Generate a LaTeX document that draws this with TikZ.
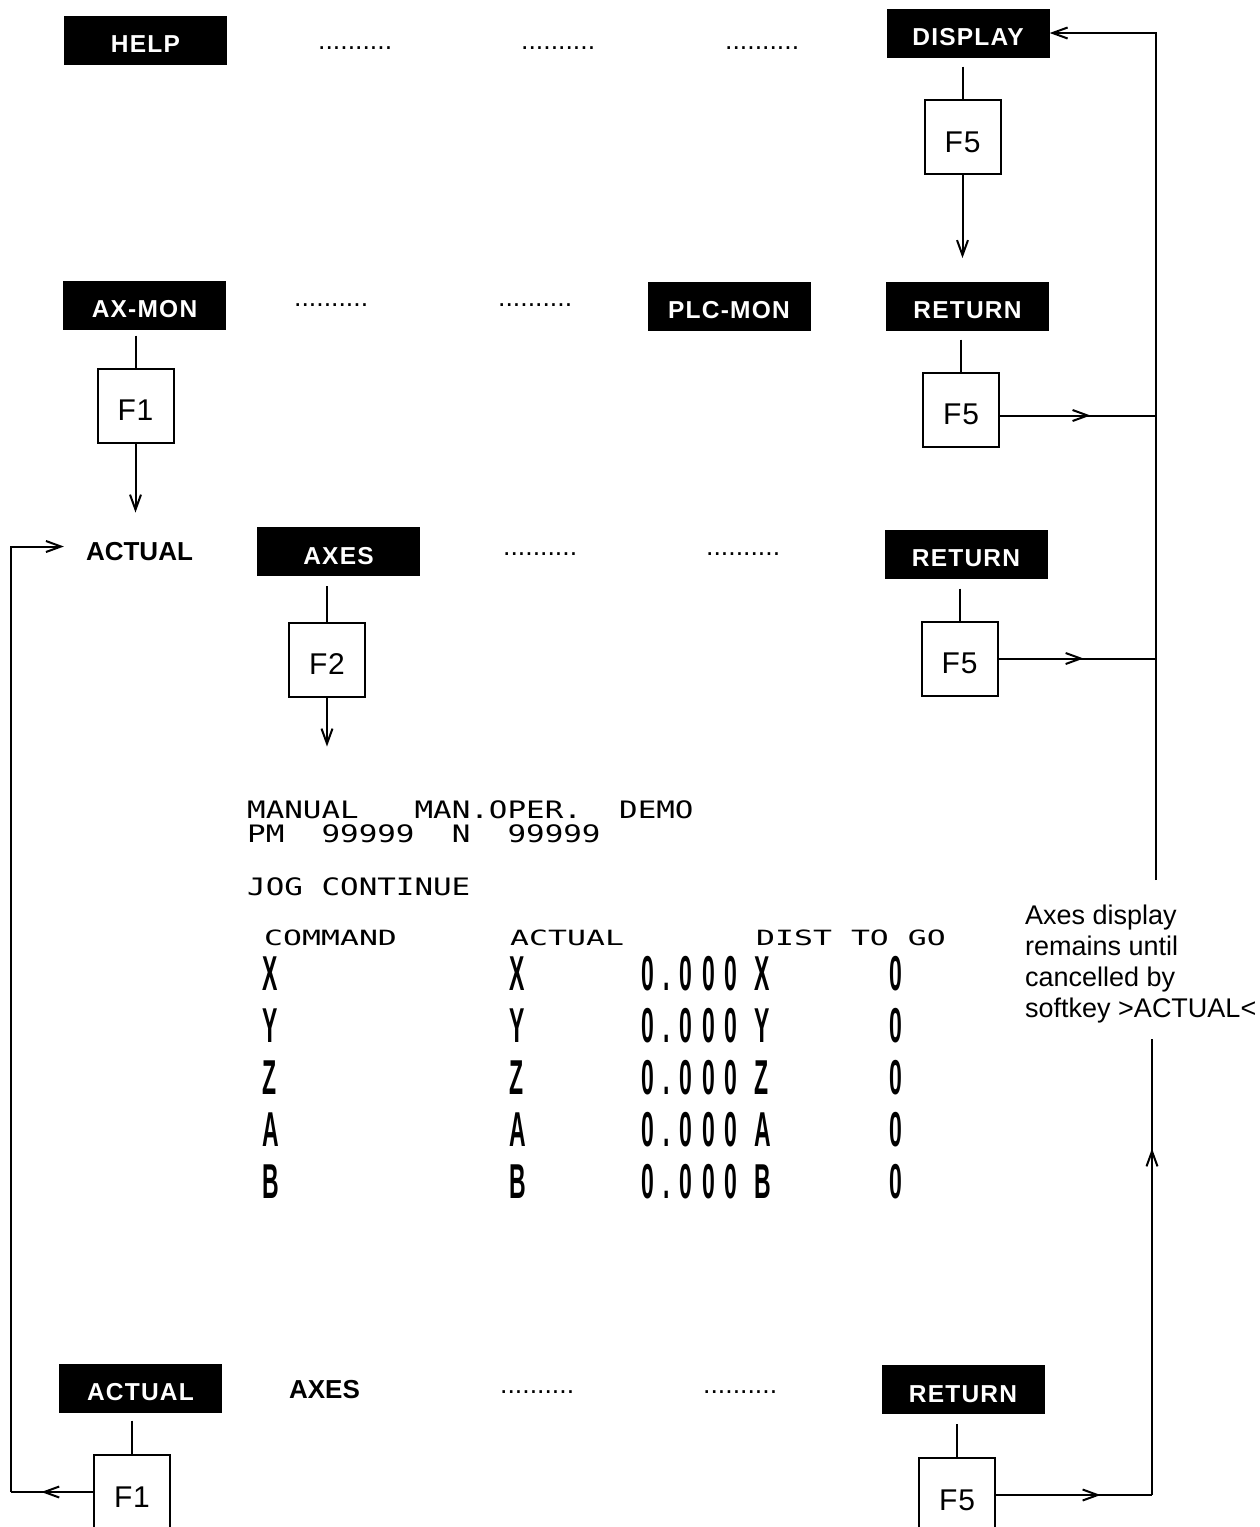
\documentclass[tikz,border=0pt]{standalone}
\usepackage{graphicx}
\usepackage{fontspec}
\setmainfont{Liberation Sans}
\newfontfamily\keyf[LetterSpace=5]{Liberation Sans}
\newfontfamily\fkf[LetterSpace=3]{Liberation Sans}
\newfontfamily\scrf{DejaVu Sans Mono}
\newfontfamily\bigf[LetterSpace=42]{Liberation Sans}
\newfontfamily\dotf{Liberation Sans}
\usetikzlibrary{arrows.meta,decorations.markings,calc}
\newcommand{\tallch}[1]{\scalebox{1.15}[2.45]{#1}}
\newcommand{\widea}[1]{\scalebox{1.287}[1]{#1}}
\newcommand{\wideb}[1]{\scalebox{1.5}[1]{#1}}
\tikzset{
  conn/.style={line width=2pt},
  arr/.style={conn,-{Straight Barb[length=15pt,width=11pt]}},
  midarrow/.style={conn,postaction={decorate},decoration={markings,mark=at position #1 with {\arrow{Straight Barb[length=15pt,width=11pt]}}}},
  keybox/.style={fill=black,text=white,minimum width=163pt,minimum height=49pt,inner sep=0pt,text height=25.5pt,text depth=0pt,font=\keyf\bfseries\fontsize{24.5}{28}\selectfont},
  fkey/.style={draw,line width=2pt,minimum width=76pt,minimum height=74pt,inner sep=0pt,text height=30pt,text depth=0pt,font=\fkf\fontsize{30}{34}\selectfont},
  leader/.style={anchor=base west,inner sep=0pt,font=\dotf\fontsize{26.6}{30}\selectfont},
  boldlabel/.style={inner sep=0pt,font=\bfseries\fontsize{26}{30}\selectfont},
  scra/.style={anchor=base west,inner sep=0pt,font=\scrf\fontsize{24}{28}\selectfont},
  scrb/.style={anchor=base west,inner sep=0pt,font=\scrf\fontsize{21}{25}\selectfont},
  bigtxt/.style={anchor=base west,inner sep=0pt,font=\bigf\bfseries\fontsize{20}{24}\selectfont},
}
\begin{document}
\begin{tikzpicture}[x=1pt,y=-1pt]
\useasboundingbox (0,0) rectangle (1260,1527);
\clip (0,0) rectangle (1260,1527);

% ---- row 1
\node[keybox] (help) at (145.5,40) {HELP};
\node[keybox] (disp) at (968,33) {DISPLAY};
\node[leader] (d11) at (318,49) {..........};
\node[leader] (d12) at (521,49) {..........};
\node[leader] (d13) at (725,49) {..........};
\node[fkey] (f5a) at (962.5,137) {F5};

% ---- row 2
\node[keybox] (axmon) at (144.5,305) {AX-MON};
\node[leader] (d21) at (294,306) {..........};
\node[leader] (d22) at (498,306) {..........};
\node[keybox] (plcmon) at (729,306) {PLC-MON};
\node[keybox] (ret1) at (967.5,306) {RETURN};
\node[fkey] (f1a) at (135.5,405.5) {F1};
\node[fkey] (f5b) at (961,409.5) {F5};

% ---- row 3
\node[boldlabel] (actual) at (139.5,551.5) {ACTUAL};
\node[keybox] (axes) at (338.5,551.5) {AXES};
\node[leader] (d31) at (503,555) {..........};
\node[leader] (d32) at (706,555) {..........};
\node[keybox] (ret2) at (966,554) {RETURN};
\node[fkey] (f2) at (327,659.5) {F2};
\node[fkey] (f5c) at (959.5,658.5) {F5};

% ---- screen
\node[scra] (m1) at (247,818) {\widea{MANUAL}};
\node[scra] (m2) at (414.4,818) {\widea{MAN.OPER.}};
\node[scra] (m3) at (619,818) {\widea{DEMO}};
\node[scra] (p1) at (247,842) {\widea{PM}};
\node[scra] (p2) at (321.4,842) {\widea{99999}};
\node[scra] (p3) at (451.6,842) {\widea{N}};
\node[scra] (p4) at (507.4,842) {\widea{99999}};
\node[scra] (jog) at (247,895) {\widea{JOG CONTINUE}};
\node[scrb] (h1) at (264,945) {\wideb{COMMAND}};
\node[scrb] (h2) at (510,945) {\wideb{ACTUAL}};
\node[scrb] (h3) at (756,945) {\wideb{DIST TO GO}};
\foreach \L/\y [count=\i] in {X/990,Y/1042,Z/1094,A/1146,B/1198}{
  \node[bigtxt] (c\i) at (262,\y) {\tallch{\L}};
  \node[bigtxt] (a\i) at (509,\y) {\tallch{\L}};
  \node[bigtxt] (v\i) at (641,\y) {\tallch{0.000}};
  \node[bigtxt] (g\i) at (754,\y) {\tallch{\L}};
  \node[bigtxt] (z\i) at (889,\y) {\tallch{0}};
}

% ---- note
\node[anchor=north west,inner sep=0pt,align=left,font=\fontsize{27}{31}\selectfont] (note) at (1025,905)
  {Axes display\\remains until\\cancelled by\\softkey >ACTUAL<};

% ---- bottom row
\node[keybox] (act2) at (140.5,1388) {ACTUAL};
\node[boldlabel] (axes2) at (324.5,1390) {AXES};
\node[leader] (d41) at (500,1393) {..........};
\node[leader] (d42) at (703,1393) {..........};
\node[keybox] (ret3) at (963,1389.5) {RETURN};
\node[fkey] (f1b) at (132,1492) {F1};
\node[fkey] (f5d) at (957,1495) {F5};

% ---- coordinates
\coordinate (vtop) at (1156,880);
\coordinate (vbot) at (1152,1039);
\coordinate (lx) at (11,1000);

% ---- connectors
\draw[conn,shorten <=9pt] (f5a.north |- disp.south) -- (f5a.north);
\draw[arr] (f5a.south) -- ++(0,83) coordinate (e1);
\draw[conn,shorten <=9pt] (f5b.north |- ret1.south) -- (f5b.north);
\draw[conn,shorten <=6pt] (f1a.north |- axmon.south) -- (f1a.north);
\draw[arr] (f1a.south) -- ++(0,69) coordinate (e2);
\draw[conn,shorten <=10pt] (f2.north |- axes.south) -- (f2.north);
\draw[arr] (f2.south) -- ++(0,49) coordinate (e3);
\draw[conn,shorten <=10pt] (f5c.north |- ret2.south) -- (f5c.north);
\draw[conn,shorten <=8pt] (f1b.north |- act2.south) -- (f1b.north);
\draw[conn,shorten <=10pt] (f5d.north |- ret3.south) -- (f5d.north);

% right return line
\draw[arr] (vtop) |- (disp.east);
\draw[midarrow=0.58] ([yshift=-6pt]f5b.east) -- ([yshift=-6pt]f5b.east -| vtop);
\draw[midarrow=0.54] (f5c.east) -- (f5c.east -| vtop);
\draw[midarrow=0.67] (f5d.east) -- (f5d.east -| vbot);
\draw[midarrow=0.76] (f5d.east -| vbot) -- (vbot);

% left loop
\draw[midarrow=0.63] (f1b.west) -- (f1b.west -| lx);
\draw[arr,shorten >=22pt] (f1b.west -| lx) |- ([yshift=5pt]actual.west);
\end{tikzpicture}
\end{document}
